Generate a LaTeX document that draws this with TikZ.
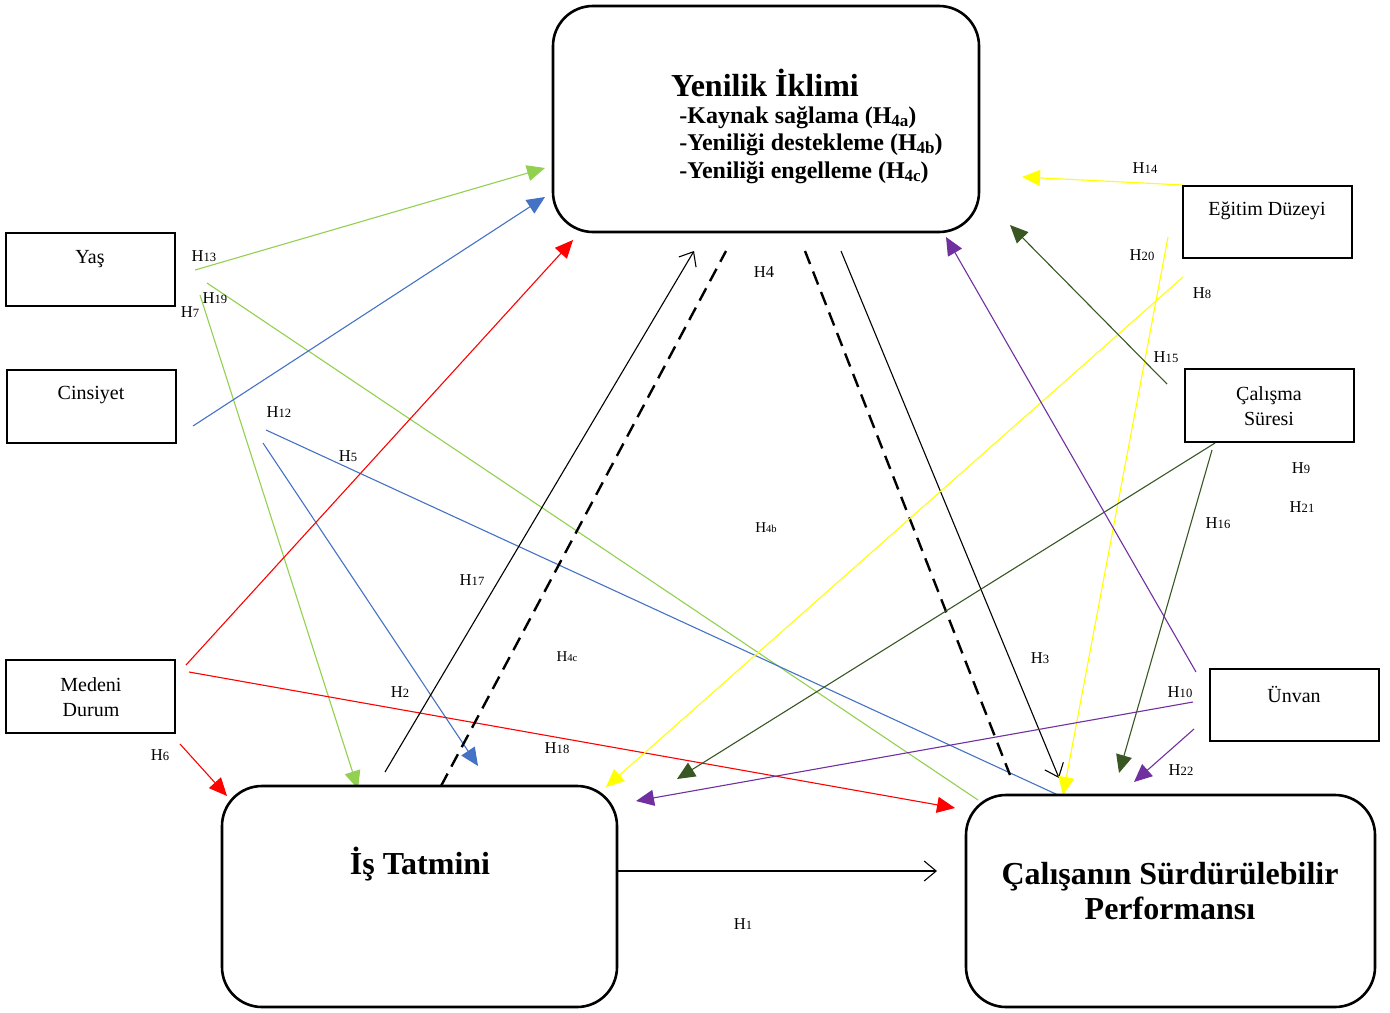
\documentclass[tikz,border=0pt]{standalone}
\usepackage{fontspec}
\setmainfont{Liberation Serif}
\usetikzlibrary{arrows.meta}
\definecolor{lgreen}{HTML}{92D050}
\definecolor{mblue}{HTML}{4472C4}
\definecolor{dgreen}{HTML}{385723}
\definecolor{mpurple}{HTML}{7030A0}
\definecolor{myellow}{HTML}{FFFF00}
\newcommand{\Hlab}[1]{H{\fontsize{6.3}{6.3}\selectfont #1}}
\newcommand{\Hsmall}[1]{{\fontsize{7.5}{7.5}\selectfont H{\fontsize{5.3}{5.3}\selectfont #1}}}
\newcommand{\Hsub}[1]{H\raisebox{-1.5pt}{\fontsize{8.5}{8.5}\selectfont #1}}
\begin{document}
\begin{tikzpicture}[x=0.5pt,y=-0.5pt,
  bigbox/.style={draw, line width=1.3pt, rounded corners=20pt, inner sep=0, fill=white},
  smallbox/.style={draw, line width=1pt, inner sep=0, minimum width=84.5pt, minimum height=36.5pt, fill=white},
  lbl/.style={font=\fontsize{8.3}{9}\selectfont, inner sep=0},
  boxtxt/.style={font=\fontsize{10}{12.5}\selectfont, align=center, inner sep=0},
  bigtxt/.style={font=\fontsize{16}{17.5}\selectfont\bfseries, align=center, inner sep=0},
  conn/.style={line width=0.55pt},
  tip/.style={conn, -{Triangle[length=9pt,width=8pt]}},
  otip/.style={conn, -{Straight Barb[length=6pt,width=10pt]}},
  dsh/.style={line width=1.2pt, dash pattern=on 7pt off 4pt}
]
\useasboundingbox (0,0) rectangle (1390,1012);

% ---------- connector end points ----------
\coordinate (c13s) at (195,270);  \coordinate (c13e) at (545,168);
\coordinate (c19s) at (207,283);  \coordinate (c19e) at (978,800);
\coordinate (c7s)  at (200,295);  \coordinate (c7e)  at (358,789);
\coordinate (cBs)  at (193,426);  \coordinate (cBe)  at (545,197);
\coordinate (c5s)  at (266,430);  \coordinate (c5e)  at (1058,795);
\coordinate (c12s) at (263,443);  \coordinate (c12e) at (478,766);
\coordinate (cRs)  at (186,665);  \coordinate (cRe)  at (573,240);
\coordinate (c18s) at (189,672);  \coordinate (c18e) at (955,808);
\coordinate (c6s)  at (180,744);  \coordinate (c6e)  at (227,796);
\coordinate (c17s) at (385,772);  \coordinate (c17e) at (694,251);
\coordinate (cd1s) at (441,786);  \coordinate (cd1e) at (726,251);
\coordinate (cd2s) at (805,251);  \coordinate (cd2e) at (1010,775);
\coordinate (c3s)  at (841,251);  \coordinate (c3e)  at (1059,778);
\coordinate (c1s)  at (617,871);  \coordinate (c1e)  at (937,871);
\coordinate (c14s) at (1183,185); \coordinate (c14e) at (1022,177);
\coordinate (c20s) at (1168,237); \coordinate (c20e) at (1063,795);
\coordinate (c8s)  at (1183,277); \coordinate (c8e)  at (606,787);
\coordinate (c15s) at (1167,384); \coordinate (c15e) at (1010,225);
\coordinate (c9s)  at (1215,443); \coordinate (c9e)  at (677,779);
\coordinate (c16s) at (1212,450); \coordinate (c16e) at (1119,773);
\coordinate (cPs)  at (1196,672); \coordinate (cPe)  at (946,237);
\coordinate (c10s) at (1193,702); \coordinate (c10e) at (636,801);
\coordinate (c22s) at (1194,729); \coordinate (c22e) at (1134,782);

% ---------- connectors ----------
\draw[tip, lgreen] (c13s) -- (c13e);
\draw[conn, lgreen] (c19s) -- (c19e);
\draw[tip, lgreen] (c7s) -- (c7e);
\draw[tip, mblue] (cBs) -- (cBe);
\draw[conn, mblue] (c5s) -- (c5e);
\draw[tip, mblue] (c12s) -- (c12e);
\draw[tip, red] (cRs) -- (cRe);
\draw[tip, red] (c18s) -- (c18e);
\draw[tip, red] (c6s) -- (c6e);
\draw[otip] (c17s) -- (c17e);
\draw[dsh] (cd1s) -- (cd1e);
\draw[dsh] (cd2s) -- (cd2e);
\draw[otip] (c3s) -- (c3e);
\draw[otip] (c1s) -- (c1e);
\draw[tip, myellow] (c14s) -- (c14e);
\draw[tip, myellow] (c20s) -- (c20e);
\draw[tip, myellow] (c8s) -- (c8e);
\draw[tip, dgreen] (c15s) -- (c15e);
\draw[tip, dgreen] (c9s) -- (c9e);
\draw[tip, dgreen] (c16s) -- (c16e);
\draw[tip, mpurple] (cPs) -- (cPe);
\draw[tip, mpurple] (c10s) -- (c10e);
\draw[tip, mpurple] (c22s) -- (c22e);

% ---------- main boxes ----------
\node[bigbox, minimum width=213pt, minimum height=113pt] (yen) at (766,119) {};
\node[bigbox, minimum width=197.5pt, minimum height=110.5pt] (ist) at (419.5,896.5) {};
\node[bigbox, minimum width=204.5pt, minimum height=106pt] (csp) at (1170.5,901) {};

\node[bigtxt] (yent) at (765,83) {Yenilik İklimi};
\node[font=\fontsize{12}{13.75}\selectfont\bfseries, align=left, inner sep=0, anchor=west] (yenl) at (679,145)
  {-Kaynak sağlama (\Hsub{4a})\\-Yeniliği destekleme (\Hsub{4b})\\-Yeniliği engelleme (\Hsub{4c})};
\node[bigtxt] (istt) at (420,864) {İş Tatmini};
\node[bigtxt] (cspt) at (1170,891) {Çalışanın Sürdürülebilir\\Performansı};

% ---------- small boxes ----------
\node[smallbox] (yas) at (90.5,269.5) {};
\node[smallbox] (cin) at (91.5,406.5) {};
\node[smallbox] (med) at (90.5,696.5) {};
\node[smallbox, minimum height=36pt] (egi) at (1267.5,222) {};
\node[smallbox] (cal) at (1269.5,405.5) {};
\node[smallbox, minimum height=36pt] (unv) at (1294.5,705) {};

\node[boxtxt] (yast) at (90,259) {Yaş};
\node[boxtxt] (cint) at (91,395) {Cinsiyet};
\node[boxtxt] (medt) at (91,697) {Medeni\\Durum};
\node[boxtxt] (egit) at (1267,211) {Eğitim Düzeyi};
\node[boxtxt] (calt) at (1269,406) {Çalışma\\Süresi};
\node[boxtxt] (unvt) at (1294,694) {Ünvan};

% ---------- hypothesis labels ----------
\node[lbl] (l13) at (204,256) {\Hlab{13}};
\node[lbl] (l19) at (215,298) {\Hlab{19}};
\node[lbl] (l7)  at (190,312) {\Hlab{7}};
\node[lbl] (l12) at (279,412) {\Hlab{12}};
\node[lbl] (l5)  at (348,456) {\Hlab{5}};
\node[lbl] (l14) at (1145,168) {\Hlab{14}};
\node[lbl] (l20) at (1142,255) {\Hlab{20}};
\node[lbl] (l8)  at (1202,293) {\Hlab{8}};
\node[lbl] (l15) at (1166,357) {\Hlab{15}};
\node[lbl] (l9)  at (1301,468) {\Hlab{9}};
\node[lbl] (l21) at (1302,507) {\Hlab{21}};
\node[lbl] (l16) at (1218,523) {\Hlab{16}};
\node[lbl] (l4)  at (764,272) {H4};
\node[lbl] (l4b) at (766,528) {\Hsmall{4b}};
\node[lbl] (l17) at (472,580) {\Hlab{17}};
\node[lbl] (l4c) at (567,657) {\Hsmall{4c}};
\node[lbl] (l3)  at (1040,658) {\Hlab{3}};
\node[lbl] (l10) at (1180,692) {\Hlab{10}};
\node[lbl] (l2)  at (400,692) {\Hlab{2}};
\node[lbl] (l18) at (557,748) {\Hlab{18}};
\node[lbl] (l6)  at (160,755) {\Hlab{6}};
\node[lbl] (l22) at (1181,770) {\Hlab{22}};
\node[lbl] (l1)  at (743,924) {\Hlab{1}};
\end{tikzpicture}
\end{document}
